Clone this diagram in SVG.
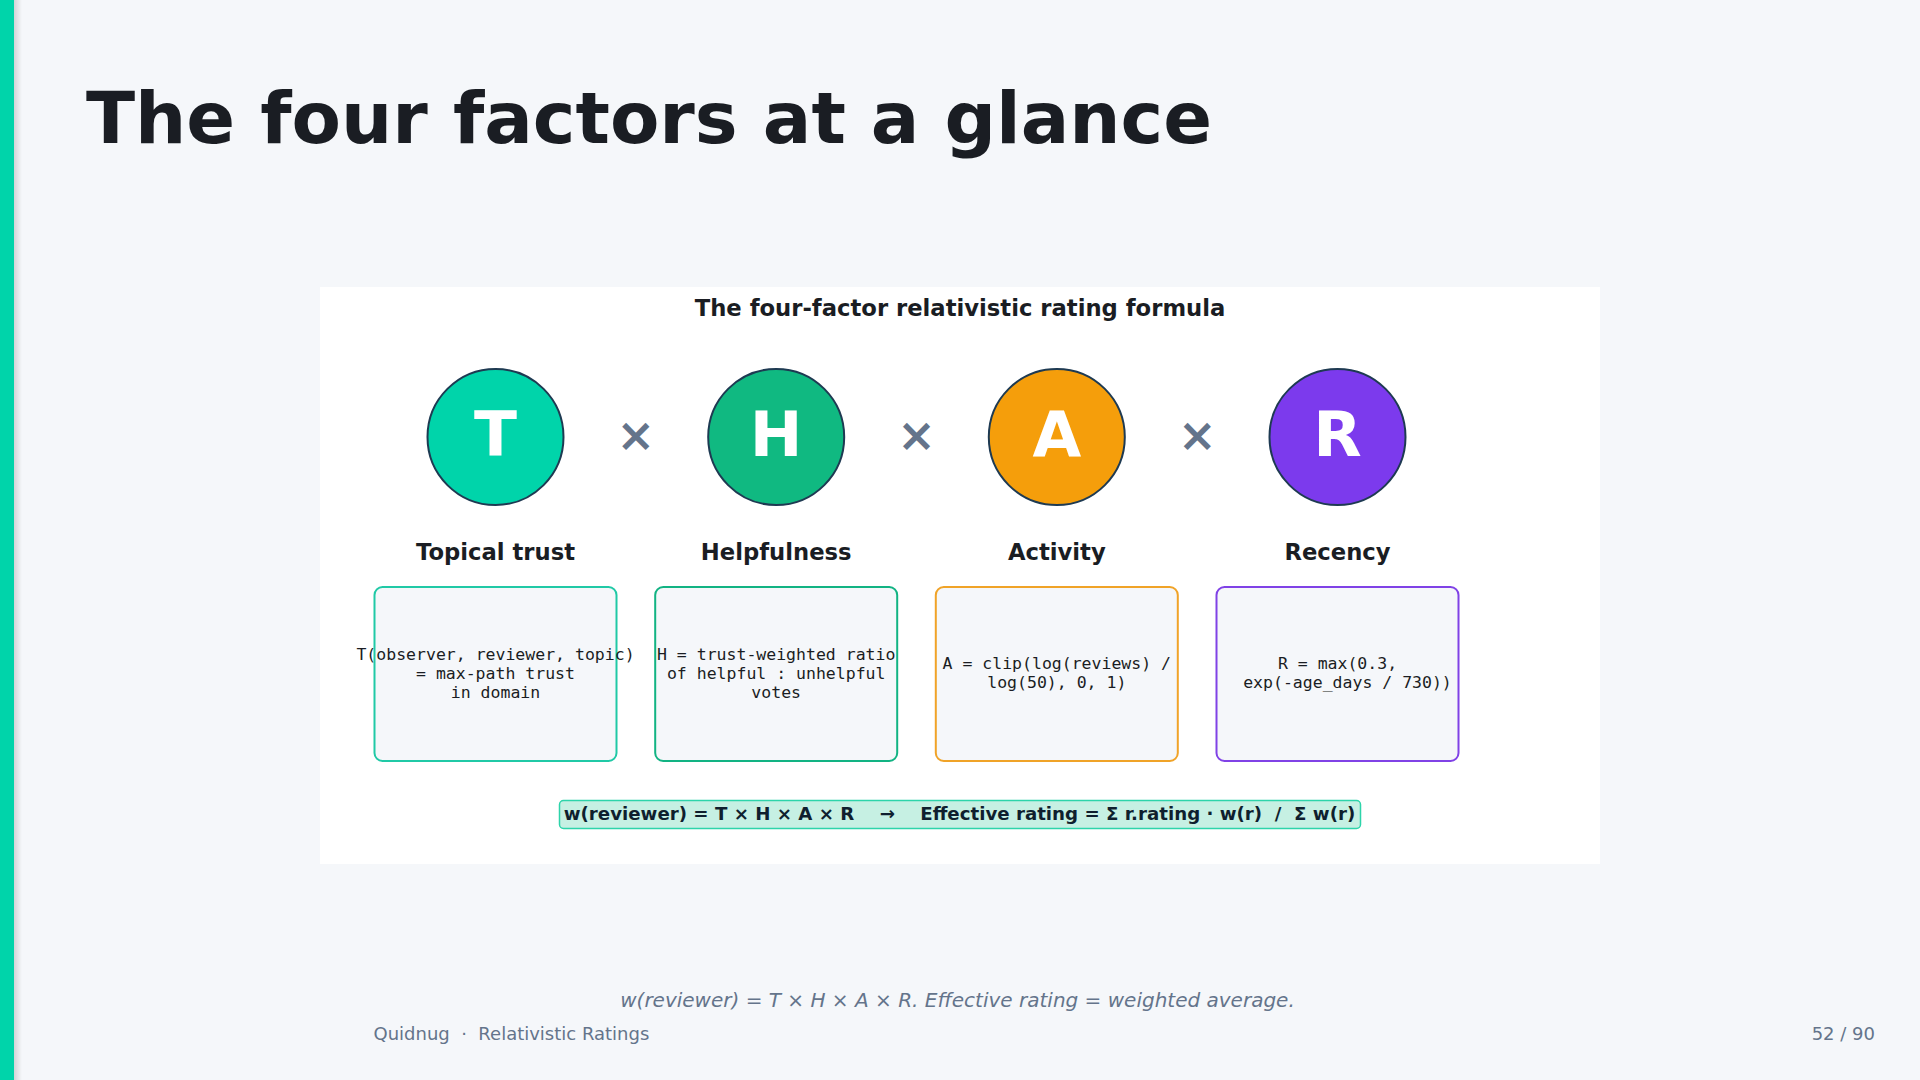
<svg xmlns="http://www.w3.org/2000/svg" width="1920" height="1080" viewBox="0 0 1920 1080">
<defs>
<linearGradient id="barShadow" x1="0" y1="0" x2="1" y2="0">
<stop offset="0" stop-color="#000" stop-opacity="0.14"/>
<stop offset="1" stop-color="#000" stop-opacity="0"/>
</linearGradient>
<style>
.sans{font-family:"DejaVu Sans","Liberation Sans",sans-serif}
.mono{font-family:"DejaVu Sans Mono","Liberation Mono",monospace;font-size:16.5px;fill:#1a1d23;text-anchor:middle}
.circ{stroke:#1e3a52;stroke-width:2}
.letter{font-family:"DejaVu Sans","Liberation Sans",sans-serif;font-weight:bold;font-size:63px;fill:#ffffff;text-anchor:middle}
.times{font-family:"DejaVu Sans","Liberation Sans",sans-serif;font-weight:bold;font-size:46px;fill:#64748b;text-anchor:middle}
.label{font-family:"DejaVu Sans","Liberation Sans",sans-serif;font-weight:bold;font-size:22.7px;fill:#1a1d23;text-anchor:middle}
.card{fill:#f5f7fa;stroke-width:2}
.foot{font-family:"DejaVu Sans","Liberation Sans",sans-serif;font-size:18px;fill:#64748b}
</style>
</defs>
<rect x="0" y="0" width="1920" height="1080" fill="#f5f7fa"/>
<rect x="0" y="0" width="14" height="1080" fill="#00d4aa"/>
<rect x="14" y="0" width="8" height="1080" fill="url(#barShadow)"/>
<text class="sans" x="86" y="143" font-size="72" font-weight="bold" fill="#1a1d23">The four factors at a glance</text>

<g id="panel">
<rect x="320" y="287" width="1280" height="577" fill="#ffffff"/>
<text class="sans" x="960" y="316" font-size="22.7" font-weight="bold" fill="#1a1d23" text-anchor="middle">The four-factor relativistic rating formula</text>
</g>

<g id="node-T">
<circle class="circ" cx="495.5" cy="437" r="68" fill="#00d4aa"/>
<text class="letter" x="495.5" y="456">T</text>
<text class="label" x="495.5" y="560">Topical trust</text>
<rect class="card" x="374.5" y="587" width="242" height="174" rx="8" stroke="#20c9a6"/>
<text class="mono" x="495.5" y="660">T(observer, reviewer, topic)</text>
<text class="mono" x="495.5" y="679">= max-path trust</text>
<text class="mono" x="495.5" y="698">in domain</text>
</g>

<g id="node-H">
<circle class="circ" cx="776.2" cy="437" r="68" fill="#10b981"/>
<text class="letter" x="776.2" y="456">H</text>
<text class="label" x="776.2" y="560">Helpfulness</text>
<rect class="card" x="655.2" y="587" width="242" height="174" rx="8" stroke="#12b383"/>
<text class="mono" x="776.2" y="660">H = trust-weighted ratio</text>
<text class="mono" x="776.2" y="679">of helpful : unhelpful</text>
<text class="mono" x="776.2" y="698">votes</text>
</g>

<g id="node-A">
<circle class="circ" cx="1056.8" cy="437" r="68" fill="#f59e0b"/>
<text class="letter" x="1056.8" y="456">A</text>
<text class="label" x="1056.8" y="560">Activity</text>
<rect class="card" x="935.8" y="587" width="242" height="174" rx="8" stroke="#f0a328"/>
<text class="mono" x="1056.8" y="668.5">A = clip(log(reviews) /</text>
<text class="mono" x="1056.8" y="688">log(50), 0, 1)</text>
</g>

<g id="node-R">
<circle class="circ" cx="1337.5" cy="437" r="68" fill="#7c3aed"/>
<text class="letter" x="1337.5" y="456">R</text>
<text class="label" x="1337.5" y="560">Recency</text>
<rect class="card" x="1216.5" y="587" width="242" height="174" rx="8" stroke="#8042e6"/>
<text class="mono" x="1337.5" y="668.5">R = max(0.3,</text>
<text class="mono" x="1347.5" y="688">exp(-age_days / 730))</text>
</g>

<g id="connectors">
<text class="times" x="635.8" y="451">×</text>
<text class="times" x="916.5" y="451">×</text>
<text class="times" x="1197.2" y="451">×</text>
</g>

<g id="formula">
<rect x="559.5" y="800.5" width="801" height="28" rx="4" fill="#c6f0e3" stroke="#2dd4aa" stroke-width="1.5"/>
<text class="sans" x="959.5" y="820" font-size="18.2" font-weight="bold" fill="#0f1f2e" text-anchor="middle" xml:space="preserve">w(reviewer) = T × H × A × R    →    Effective rating = Σ r.rating · w(r)  /  Σ w(r)</text>
</g>

<text class="sans" x="957.5" y="1007" font-size="20" font-style="italic" fill="#64748b" text-anchor="middle">w(reviewer) = T × H × A × R. Effective rating = weighted average.</text>
<text class="foot" x="373.5" y="1040" xml:space="preserve">Quidnug  ·  Relativistic Ratings</text>
<text class="foot" x="1875" y="1040" text-anchor="end">52 / 90</text>
</svg>
